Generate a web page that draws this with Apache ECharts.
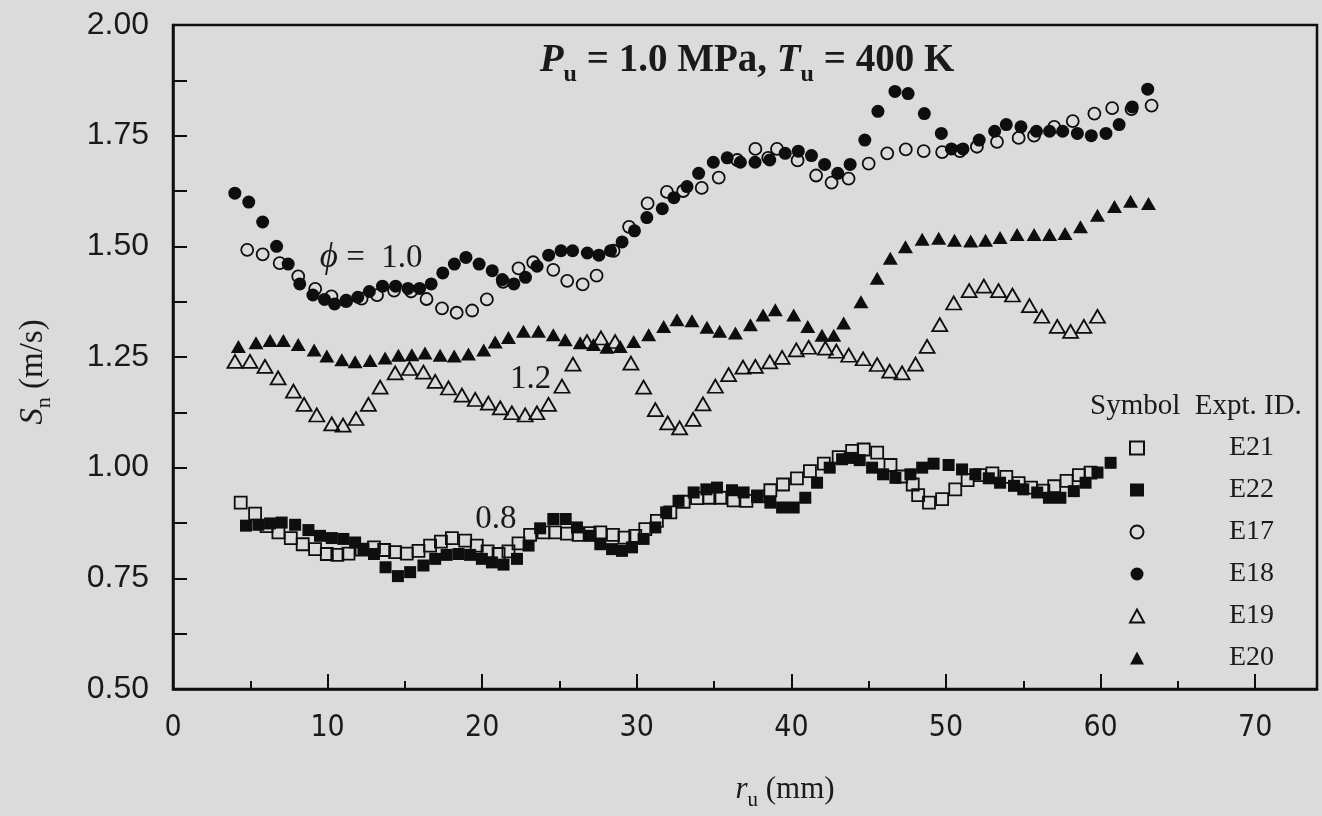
<!DOCTYPE html>
<html>
<head>
<meta charset="utf-8">
<script src="https://cdn.jsdelivr.net/npm/echarts@6/dist/echarts.min.js"></script>
<style>
  html, body { margin: 0; padding: 0; background: #dbdbdb; }
  #chart { width: 1322px; height: 816px; }
</style>
</head>
<body>
<div id="chart"></div>
<script>
// Flame speed S_n (m/s) vs radius r_u (mm), Pu = 1.0 MPa, Tu = 400 K
// phi = 0.8 : E21 (open squares), E22 (filled squares)
const e21 = [[4.38,0.921],[5.31,0.896],[6.05,0.868],[6.82,0.854],[7.62,0.841],[8.39,0.827],[9.19,0.816],[9.95,0.805],[10.63,0.803],[11.35,0.806],[12.2,0.815],[13.0,0.82],[13.66,0.814],[14.37,0.809],[15.12,0.806],[15.88,0.812],[16.63,0.824],[17.33,0.833],[18.04,0.841],[18.9,0.835],[19.65,0.824],[20.35,0.811],[21.06,0.805],[21.7,0.811],[22.35,0.829],[23.1,0.848],[23.97,0.854],[24.72,0.854],[25.48,0.851],[26.23,0.848],[26.95,0.852],[27.64,0.854],[28.46,0.848],[29.2,0.842],[29.9,0.846],[30.55,0.861],[31.3,0.88],[32.17,0.899],[33.03,0.923],[33.9,0.931],[34.7,0.932],[35.4,0.932],[36.26,0.926],[37.09,0.925],[37.85,0.935],[38.64,0.949],[39.46,0.962],[40.36,0.976],[41.2,0.992],[42.1,1.009],[43.06,1.024],[43.93,1.038],[44.68,1.041],[45.55,1.034],[46.41,1.006],[47.1,0.98],[47.85,0.962],[48.2,0.938],[48.9,0.921],[49.75,0.929],[50.6,0.951],[51.4,0.972],[52.2,0.983],[53.0,0.987],[53.9,0.979],[54.7,0.965],[55.5,0.955],[56.3,0.948],[57.0,0.958],[57.8,0.97],[58.6,0.983],[59.35,0.989]];
const e22 = [[4.72,0.869],[5.52,0.871],[6.28,0.874],[7.03,0.876],[7.9,0.871],[8.76,0.859],[9.51,0.846],[10.27,0.841],[11.02,0.839],[11.78,0.831],[12.32,0.816],[13.0,0.805],[13.75,0.775],[14.55,0.755],[15.34,0.764],[16.2,0.779],[16.96,0.794],[17.7,0.803],[18.47,0.805],[19.22,0.803],[19.98,0.794],[20.63,0.786],[21.38,0.781],[22.25,0.794],[23.0,0.824],[23.75,0.863],[24.6,0.884],[25.4,0.884],[26.13,0.865],[26.99,0.846],[27.64,0.827],[28.4,0.816],[29.04,0.812],[29.69,0.82],[30.44,0.839],[31.2,0.865],[31.9,0.899],[32.7,0.925],[33.68,0.944],[34.5,0.951],[35.19,0.955],[36.16,0.949],[36.91,0.944],[37.78,0.936],[38.64,0.921],[39.4,0.91],[40.15,0.91],[40.9,0.932],[41.66,0.966],[42.48,1.0],[43.28,1.019],[43.85,1.022],[44.42,1.017],[45.22,1.0],[45.93,0.985],[46.73,0.977],[47.7,0.985],[48.46,1.0],[49.2,1.009],[50.17,1.006],[51.04,0.996],[51.9,0.985],[52.77,0.976],[53.5,0.966],[54.4,0.959],[55.0,0.951],[55.9,0.944],[56.66,0.932],[57.4,0.932],[58.27,0.947],[59.03,0.966],[59.8,0.989],[60.65,1.011]];
// phi = 1.0 : E17 (open circles), E18 (filled circles)
const e17 = [[4.8,1.492],[5.8,1.482],[6.9,1.462],[8.1,1.432],[9.2,1.404],[10.25,1.387],[11.2,1.376],[12.2,1.382],[13.2,1.39],[14.3,1.40],[15.4,1.398],[16.4,1.381],[17.4,1.36],[18.35,1.35],[19.35,1.355],[20.3,1.38],[21.35,1.42],[22.35,1.45],[23.3,1.464],[24.6,1.447],[25.5,1.422],[26.5,1.414],[27.4,1.434],[28.5,1.49],[29.5,1.544],[30.7,1.597],[31.95,1.623],[33.0,1.625],[34.2,1.632],[35.3,1.655],[36.5,1.695],[37.67,1.72],[38.5,1.70],[39.07,1.72],[40.4,1.694],[41.6,1.66],[42.6,1.644],[43.7,1.653],[45.0,1.687],[46.2,1.71],[47.4,1.719],[48.56,1.715],[49.75,1.713],[50.9,1.715],[52.0,1.725],[53.3,1.736],[54.7,1.745],[55.7,1.75],[57.0,1.77],[58.2,1.783],[59.6,1.80],[60.75,1.812],[62.0,1.81],[63.3,1.818]];
const e18 = [[4.0,1.62],[4.9,1.60],[5.8,1.555],[6.7,1.50],[7.45,1.46],[8.2,1.415],[9.05,1.39],[9.8,1.38],[10.45,1.37],[11.2,1.378],[11.95,1.385],[12.7,1.398],[13.55,1.41],[14.4,1.41],[15.2,1.405],[15.95,1.405],[16.7,1.415],[17.45,1.44],[18.2,1.46],[18.95,1.475],[19.8,1.46],[20.65,1.445],[21.3,1.425],[22.05,1.415],[22.8,1.43],[23.55,1.455],[24.3,1.48],[25.1,1.49],[25.85,1.49],[26.8,1.485],[27.55,1.48],[28.3,1.49],[29.05,1.51],[29.85,1.535],[30.65,1.565],[31.65,1.585],[32.4,1.61],[33.25,1.635],[34.0,1.665],[34.95,1.69],[35.85,1.70],[36.7,1.69],[37.65,1.69],[38.6,1.695],[39.6,1.71],[40.45,1.715],[41.3,1.705],[42.15,1.685],[43.0,1.665],[43.8,1.685],[44.75,1.74],[45.6,1.805],[46.7,1.85],[47.55,1.845],[48.6,1.80],[49.7,1.755],[50.35,1.72],[51.1,1.72],[52.15,1.74],[53.15,1.76],[53.9,1.775],[54.85,1.77],[55.85,1.76],[56.7,1.76],[57.55,1.76],[58.5,1.755],[59.4,1.75],[60.35,1.755],[61.2,1.775],[62.05,1.815],[63.05,1.855]];
// phi = 1.2 : E19 (open triangles), E20 (filled triangles)
const e19 = [[4.01,1.24],[4.98,1.24],[5.95,1.229],[6.8,1.203],[7.79,1.173],[8.48,1.143],[9.3,1.119],[10.27,1.099],[11.0,1.096],[11.84,1.111],[12.64,1.143],[13.4,1.182],[14.37,1.214],[15.3,1.224],[16.2,1.216],[16.96,1.195],[17.82,1.18],[18.69,1.164],[19.55,1.154],[20.4,1.146],[21.17,1.135],[21.92,1.124],[22.78,1.119],[23.54,1.124],[24.29,1.143],[25.16,1.184],[25.87,1.234],[26.78,1.285],[27.68,1.293],[28.6,1.285],[29.62,1.236],[30.44,1.182],[31.2,1.131],[32.0,1.101],[32.77,1.09],[33.64,1.109],[34.28,1.144],[35.08,1.184],[35.94,1.21],[36.87,1.227],[37.67,1.229],[38.6,1.239],[39.4,1.249],[40.32,1.266],[41.12,1.272],[42.2,1.27],[42.91,1.263],[43.71,1.254],[44.64,1.246],[45.55,1.233],[46.36,1.218],[47.16,1.214],[48.03,1.234],[48.78,1.274],[49.6,1.323],[50.5,1.372],[51.5,1.40],[52.45,1.41],[53.4,1.40],[54.3,1.39],[55.4,1.366],[56.2,1.342],[57.2,1.319],[58.06,1.308],[58.92,1.319],[59.8,1.342]];
const e20 = [[4.23,1.274],[5.37,1.282],[6.28,1.287],[7.14,1.287],[8.1,1.278],[9.13,1.266],[9.95,1.252],[10.92,1.244],[11.78,1.239],[12.75,1.242],[13.72,1.248],[14.58,1.254],[15.45,1.255],[16.3,1.259],[17.28,1.254],[18.19,1.252],[19.11,1.257],[20.1,1.266],[20.84,1.284],[21.7,1.294],[22.67,1.308],[23.64,1.308],[24.6,1.30],[25.37,1.289],[26.34,1.282],[27.2,1.278],[28.07,1.272],[28.93,1.274],[29.8,1.285],[30.77,1.30],[31.74,1.319],[32.6,1.334],[33.57,1.332],[34.54,1.317],[35.36,1.308],[36.38,1.304],[37.35,1.323],[38.17,1.345],[38.96,1.357],[40.15,1.345],[41.06,1.319],[41.98,1.299],[42.74,1.299],[43.38,1.327],[44.5,1.375],[45.55,1.428],[46.4,1.473],[47.38,1.499],[48.46,1.516],[49.53,1.518],[50.55,1.514],[51.6,1.512],[52.56,1.514],[53.5,1.52],[54.6,1.527],[55.7,1.527],[56.7,1.527],[57.7,1.529],[58.7,1.544],[59.8,1.57],[60.9,1.59],[61.94,1.602],[63.1,1.597]];

// legend rows, top to bottom
const legendOrder = ['E21', 'E22', 'E17', 'E18', 'E19', 'E20'];
// equivalence-ratio notes, anchored at their left edge in data space: [r_u, S_n, text]
const curveNotes = [[9.5, 1.474, 'ϕ = 1.0'], [21.8, 1.199, '1.2'], [19.55, 0.883, '0.8']];

const INK = '#0e0e0e';
const TEXT = '#1a1a1a';
const SERIF = '"Liberation Serif", "Times New Roman", serif';
const SANS = '"Liberation Sans", Arial, sans-serif';

function openMark(name, data, symbol, size) {
  return { name, type: 'scatter', data, symbol, symbolSize: size, z: 2,
    itemStyle: { color: 'rgba(0,0,0,0)', borderColor: INK, borderWidth: 1.8, opacity: 1 } };
}
function solidMark(name, data, symbol, size) {
  return { name, type: 'scatter', data, symbol, symbolSize: size, z: 3,
    itemStyle: { color: INK, borderWidth: 0, opacity: 1 } };
}
function onStep(v, step) {
  const k = v / step;
  return Math.abs(k - Math.round(k)) < 1e-6;
}

const chart = echarts.init(document.getElementById('chart'), null, { renderer: 'canvas' });
chart.setOption({
  animation: false,
  backgroundColor: '#dbdbdb',
  title: {
    text: '{i|P}{s|u}{b| = 1.0 MPa, }{i|T}{s|u}{b| = 400 K}',
    left: 742, top: 30, textAlign: 'center',
    textStyle: {
      rich: {
        i: { fontFamily: SERIF, fontSize: 39, fontWeight: 'bold', fontStyle: 'italic', color: TEXT, lineHeight: 52 },
        b: { fontFamily: SERIF, fontSize: 39, fontWeight: 'bold', color: TEXT, lineHeight: 52 },
        s: { fontFamily: SERIF, fontSize: 24, fontWeight: 'bold', color: TEXT, lineHeight: 24, verticalAlign: 'bottom' }
      }
    }
  },
  grid: { left: 173, right: 5, top: 25, bottom: 125, show: true, borderColor: INK, borderWidth: 2.5, backgroundColor: 'transparent' },
  xAxis: {
    type: 'value', min: 0, max: 74, interval: 10,
    name: '{i|r}{s|u}{t| (mm)}', nameLocation: 'middle', nameGap: 80,
    nameTextStyle: {
      padding: [0, 0, 0, 80],
      rich: {
        i: { fontFamily: SERIF, fontSize: 31, fontStyle: 'italic', color: TEXT, lineHeight: 42 },
        t: { fontFamily: SERIF, fontSize: 31, color: TEXT, lineHeight: 42 },
        s: { fontFamily: SERIF, fontSize: 21, color: TEXT, lineHeight: 21, verticalAlign: 'bottom' }
      }
    },
    axisLine: { lineStyle: { color: INK, width: 2.5 } },
    axisTick: { inside: true, length: 15, lineStyle: { color: INK, width: 2 } },
    minorTick: { show: true, splitNumber: 2, length: 8, lineStyle: { color: INK, width: 2 } },
    splitLine: { show: false },
    axisLabel: {
      margin: 24, fontSize: 30, color: TEXT,
      fontFamily: '"Liberation Sans Narrow", "DejaVu Sans Condensed", ' + SANS,
      formatter: v => (onStep(v, 10) ? String(v) : '')
    }
  },
  yAxis: {
    type: 'value', min: 0.5, max: 2.0, interval: 0.125,
    name: '{i|S}{s|n}{t| (m/s)}', nameLocation: 'middle', nameRotate: 90, nameGap: 118,
    nameTextStyle: {
      padding: [0, 30, 0, 0],
      rich: {
        i: { fontFamily: SERIF, fontSize: 33, fontStyle: 'italic', color: TEXT, lineHeight: 44 },
        t: { fontFamily: SERIF, fontSize: 33, color: TEXT, lineHeight: 44 },
        s: { fontFamily: SERIF, fontSize: 22, color: TEXT, lineHeight: 22, verticalAlign: 'bottom' }
      }
    },
    axisLine: { lineStyle: { color: INK, width: 2.5 } },
    axisTick: { inside: true, length: 14, lineStyle: { color: INK, width: 2 } },
    splitLine: { show: false },
    axisLabel: {
      margin: 24, fontSize: 32, color: TEXT, fontFamily: SANS,
      formatter: v => (onStep(v, 0.25) ? v.toFixed(2) : '')
    }
  },
  legend: {
    data: legendOrder, orient: 'vertical', left: 1124, top: 428,
    itemWidth: 14, itemHeight: 13, itemGap: 12,
    formatter: n => '{g|}{n|' + n + '}',
    textStyle: {
      fontFamily: SERIF, fontSize: 28, color: TEXT, lineHeight: 30,
      rich: { g: { width: 80 }, n: { fontFamily: SERIF, fontSize: 28, color: TEXT } }
    }
  },
  graphic: [{
    type: 'text', left: 1090, top: 392,
    style: { text: 'Symbol  Expt. ID.', font: '29px "Liberation Serif", serif', fill: TEXT }
  }],
  series: [
    openMark('E21', e21, 'rect', 12),
    solidMark('E22', e22, 'rect', 12),
    openMark('E17', e17, 'circle', 12),
    solidMark('E18', e18, 'circle', 13),
    openMark('E19', e19, 'triangle', [15, 13]),
    solidMark('E20', e20, 'triangle', [15, 13]),
    {
      name: 'notes', type: 'scatter', data: curveNotes, symbolSize: 0, z: 4,
      itemStyle: { color: 'rgba(0,0,0,0)', opacity: 1 },
      label: {
        show: true, position: 'right', distance: 0, color: TEXT, opacity: 1,
        formatter: p => {
          const s = p.data[2];
          return s.charAt(0) === 'ϕ' ? '{g|ϕ}{t| =  1.0}' : '{t|' + s + '}';
        },
        rich: {
          g: { fontFamily: SERIF, fontSize: 35, fontStyle: 'italic', color: TEXT },
          t: { fontFamily: SERIF, fontSize: 33, color: TEXT }
        }
      }
    }
  ]
});
</script>
</body>
</html>
